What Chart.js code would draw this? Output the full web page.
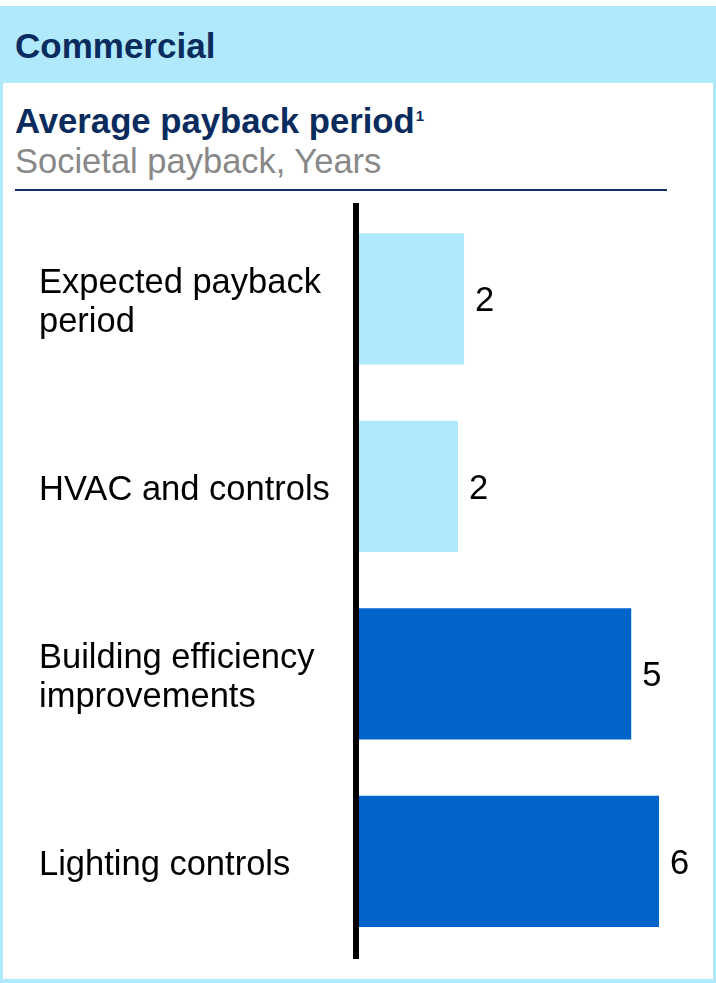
<!DOCTYPE html>
<html>
<head>
<meta charset="utf-8">
<script src="https://cdn.jsdelivr.net/npm/chart.js@4"></script>
<style>
  html, body { margin: 0; padding: 0; background: #fff; }
  body { width: 716px; height: 983px; position: relative; overflow: hidden; font-family: 'Liberation Sans', Arial, sans-serif; }
  #frame { position: absolute; left: 0; top: 6px; width: 716px; height: 977px; background: #b0e9fc; }
  #panel { position: absolute; left: 3px; top: 83px; width: 710px; height: 896px; background: #fff; }
  .txt { position: absolute; white-space: nowrap; font-size: 34.5px; line-height: 34px; }
  #header { left: 15px; top: 29px; font-weight: bold; font-size: 35px; color: #0a2b5e; }
  #title { left: 15px; top: 104px; font-weight: bold; font-size: 34.7px; color: #0a2b5e; }
  #title sup { font-size: 15px; position: relative; top: -12px; vertical-align: baseline; line-height: 0; margin-left: 1px; }
  #subtitle { left: 15px; top: 144px; color: #888888; }
  #rule { position: absolute; left: 15px; top: 189px; width: 652px; height: 2px; background: #14306a; }
  #chartBox { position: absolute; left: 0; top: 195px; width: 716px; height: 770px; }
</style>
</head>
<body>
<div id="frame"></div>
<div id="panel"></div>
<div class="txt" id="header">Commercial</div>
<div class="txt" id="title">Average payback period<sup>1</sup></div>
<div class="txt" id="subtitle">Societal payback, Years</div>
<div id="rule"></div>
<div id="chartBox"><canvas id="chart" width="716" height="770"></canvas></div>
<script>
const categories = [
    ['Expected payback', 'period'],
    'HVAC and controls',
    ['Building efficiency', 'improvements'],
    'Lighting controls'
];
const paybackYears = [2.14, 2.02, 5.45, 6.0];
const valueLabels = ['2', '2', '5', '6'];
const barColors = ['#b0e9fc', '#b0e9fc', '#0064c8', '#0064c8'];

// value labels at the bar ends, plus the thick black axis line
const barExtras = {
    id: 'barExtras',
    afterDatasetsDraw(chart) {
        const ctx = chart.ctx;
        const area = chart.chartArea;
        const meta = chart.getDatasetMeta(0);
        ctx.save();
        ctx.font = "34.5px 'Liberation Sans', Arial, sans-serif";
        ctx.fillStyle = '#000';
        ctx.textAlign = 'left';
        ctx.textBaseline = 'middle';
        meta.data.forEach((bar, i) => {
            ctx.fillText(valueLabels[i], bar.x + 11, bar.y + 3);
        });
        ctx.fillRect(area.left - 3, area.top - 2, 6, area.bottom - area.top + 6);
        ctx.restore();
    }
};

new Chart(document.getElementById('chart').getContext('2d'), {
    type: 'bar',
    data: {
        labels: categories,
        datasets: [{
            data: paybackYears,
            backgroundColor: barColors,
            borderWidth: 0,
            barPercentage: 0.7,
            categoryPercentage: 1.0
        }]
    },
    options: {
        indexAxis: 'y',
        responsive: false,
        animation: false,
        layout: {
            padding: { left: 39, right: 57, top: 10, bottom: 10 }
        },
        plugins: {
            legend: { display: false },
            tooltip: { enabled: false }
        },
        scales: {
            x: {
                display: false,
                min: 0,
                max: 6
            },
            y: {
                grid: { display: false },
                border: { display: false },
                ticks: {
                    crossAlign: 'far',
                    color: '#000',
                    padding: 0,
                    labelOffset: 4,
                    font: { family: "'Liberation Sans', Arial, sans-serif", size: 34.5, lineHeight: 1.13 }
                },
                afterFit(scale) {
                    scale.width = 317;
                    scale.paddingTop = 0;
                    scale.paddingBottom = 0;
                }
            }
        }
    },
    plugins: [barExtras]
});
</script>
</body>
</html>
